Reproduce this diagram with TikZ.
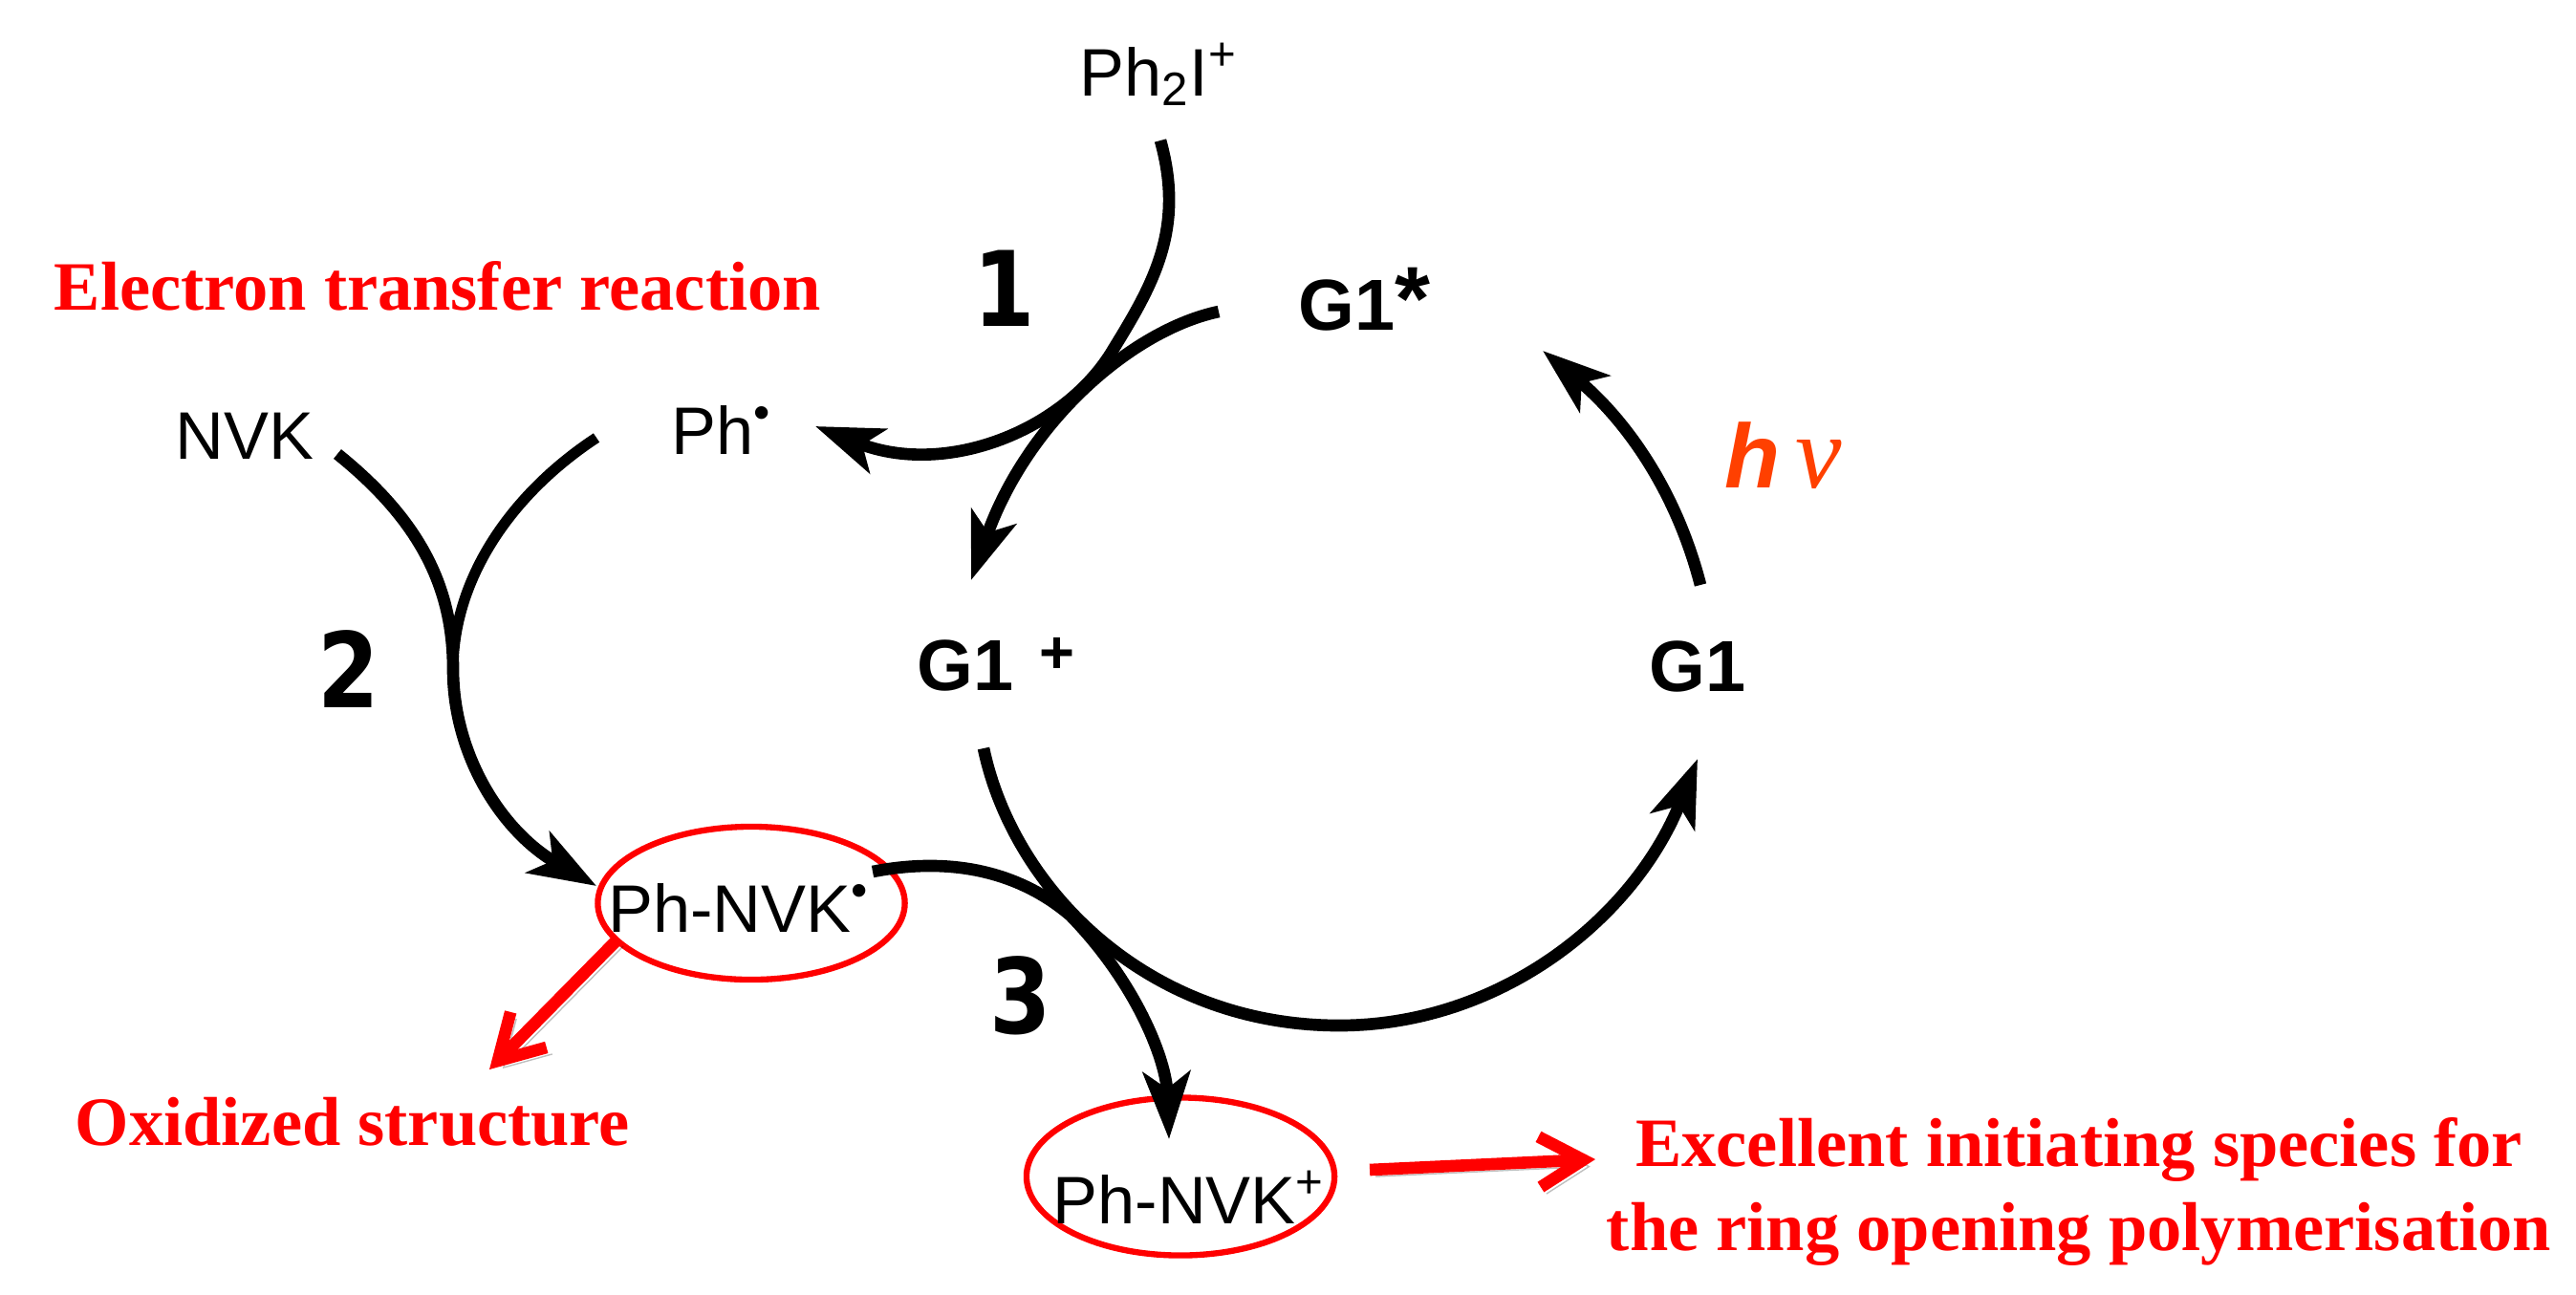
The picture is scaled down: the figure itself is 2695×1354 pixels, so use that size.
\documentclass[tikz,border=0pt]{standalone}
\usepackage{fontspec}
\setmainfont{Liberation Sans}
\newfontfamily\serifred{Liberation Serif}
\newfontfamily\numfont{DejaVu Sans}
\usetikzlibrary{arrows.meta,shapes.geometric}
\definecolor{hvorange}{RGB}{255,64,0}
\newcommand{\stepdigit}[1]{\scalebox{.85}[1]{#1}}
\newcommand{\cyclemark}[2]{\raisebox{#1}{\fontsize{18}{18}\selectfont #2}}
\tikzset{
    chem/.style={inner sep=0pt,font=\fontsize{20}{24}\selectfont},
    cycle/.style={inner sep=0pt,font=\fontsize{21.5}{26}\selectfont\bfseries},
    stepnum/.style={inner sep=0pt,font=\numfont\fontsize{31}{36}\selectfont\bfseries},
    note/.style={inner sep=0pt,text=red,align=center,font=\serifred\fontsize{20.6}{24.8}\selectfont\bfseries},
    ring/.style={draw=red,line width=1.8pt,ellipse,inner sep=0pt},
    flow/.style={line width=3.6pt,-{Stealth[length=20pt,width=14pt,inset=5pt]}},
    flowend/.style={line width=3.2pt},
    callout/.style={draw=red,line width=3.6pt,-{Straight Barb[length=13pt,width=15pt]},
        preaction={draw=black,opacity=.25,transform canvas={shift={(6,7)}}}}
}
\begin{document}
\begin{tikzpicture}[x=0.01cm,y=-0.01cm]
    \useasboundingbox (0,0) rectangle (2695,1354);

    % rings behind the labels
    \node[ring,minimum width=3.21cm,minimum height=1.6cm] (radring) at (786,945) {};
    \node[ring,minimum width=3.22cm,minimum height=1.65cm] (catring) at (1235,1231) {};

    % species
    \node[chem,anchor=base] (iodonium) at (1212,100) {Ph\textsubscript{2}I\textsuperscript{+}};
    \node[chem,anchor=base] (nvk) at (256,480) {NVK};
    \node[chem,anchor=base] (phrad) at (755,475) {Ph\textsuperscript{\textbullet}};
    \node[chem,anchor=base] (rad) at (773,975) {Ph-NVK\textsuperscript{\textbullet}};
    \node[chem,anchor=base] (cat) at (1244,1280) {Ph-NVK\textsuperscript{+}};

    % photocatalyst cycle
    \node[cycle,anchor=base west] (excited) at (1358,345) {G1\cyclemark{0pt}{\fontsize{27}{27}\selectfont *}};
    \node[cycle,anchor=base west] (oxid) at (959,722) {G1\hspace{.35em}\cyclemark{5pt}{+}};
    \node[cycle,anchor=base] (ground) at (1776,723) {G1};
    \node[anchor=base west,inner sep=0pt,text=hvorange] (light) at (1804,510)
        {\fontsize{27}{30}\selectfont\bfseries\itshape h\,{\serifred\mdseries\fontsize{31}{30}\selectfont ν}};

    % step numbers
    \node[stepnum,anchor=base] (one) at (1051,341) {\stepdigit{1}};
    \node[stepnum,anchor=base] (two) at (365,740) {\stepdigit{2}};
    \node[stepnum,anchor=base] (three) at (1068,1081) {\stepdigit{3}};

    % red notes
    \node[note,anchor=base west] (etnote) at (56,324) {Electron transfer reaction};
    \node[note,anchor=base west] (oxnote) at (78,1198) {Oxidized structure};
    \node[note,anchor=base] (initnote) at (2175,1308) {Excellent initiating species for\\the ring opening polymerisation};

    % free ends of the curves
    \coordinate (iodout) at (1214,147);
    \coordinate (exout) at (1275,326);
    \coordinate (phin) at (853,446);
    \coordinate (oxin) at (1016,607);
    \coordinate (nvkout) at (353,475);
    \coordinate (phout) at (624,458);
    \coordinate (merge) at (474,700);
    \coordinate (radin) at (624,927);
    \coordinate (radout) at (913,912);
    \coordinate (cross) at (1120,958);
    \coordinate (catin) at (1223,1192);
    \coordinate (oxout) at (1029,783);
    \coordinate (groundin) at (1776,794);
    \coordinate (groundout) at (1779,612);
    \coordinate (exin) at (1614,367);
    \coordinate (radred) at (646,983);
    \coordinate (oxtip) at (512,1119);
    \coordinate (catred) at (1433,1224);
    \coordinate (cattip) at (1669,1213);

    % step 1
    \draw[flow] (iodout) .. controls (1240,240) and (1206,298) .. (1165,365)
        .. controls (1115,450) and (990,500) .. (phin);
    \draw[flow] (exout) .. controls (1185,345) and (1075,440) .. (oxin);

    % step 2
    \draw[flowend] (phout) .. controls (530,520) and (474,610) .. (merge);
    \draw[flow] (nvkout) .. controls (440,545) and (474,615) .. (merge)
        .. controls (474,790) and (525,870) .. (radin);

    % step 3
    \draw[flow] (radout) .. controls (1000,895) and (1070,915) .. (cross)
        .. controls (1190,1030) and (1220,1110) .. (catin);

    % closing the cycle
    \draw[flow] (oxout) .. controls (1060,930) and (1200,1073) .. (1401,1073)
        .. controls (1570,1073) and (1710,960) .. (groundin);
    \draw[flow] (groundout) .. controls (1750,500) and (1690,430) .. (exin);

    % red arrows
    \draw[callout] (radred) -- (oxtip);
    \draw[callout] (catred) -- (cattip);
\end{tikzpicture}
\end{document}
